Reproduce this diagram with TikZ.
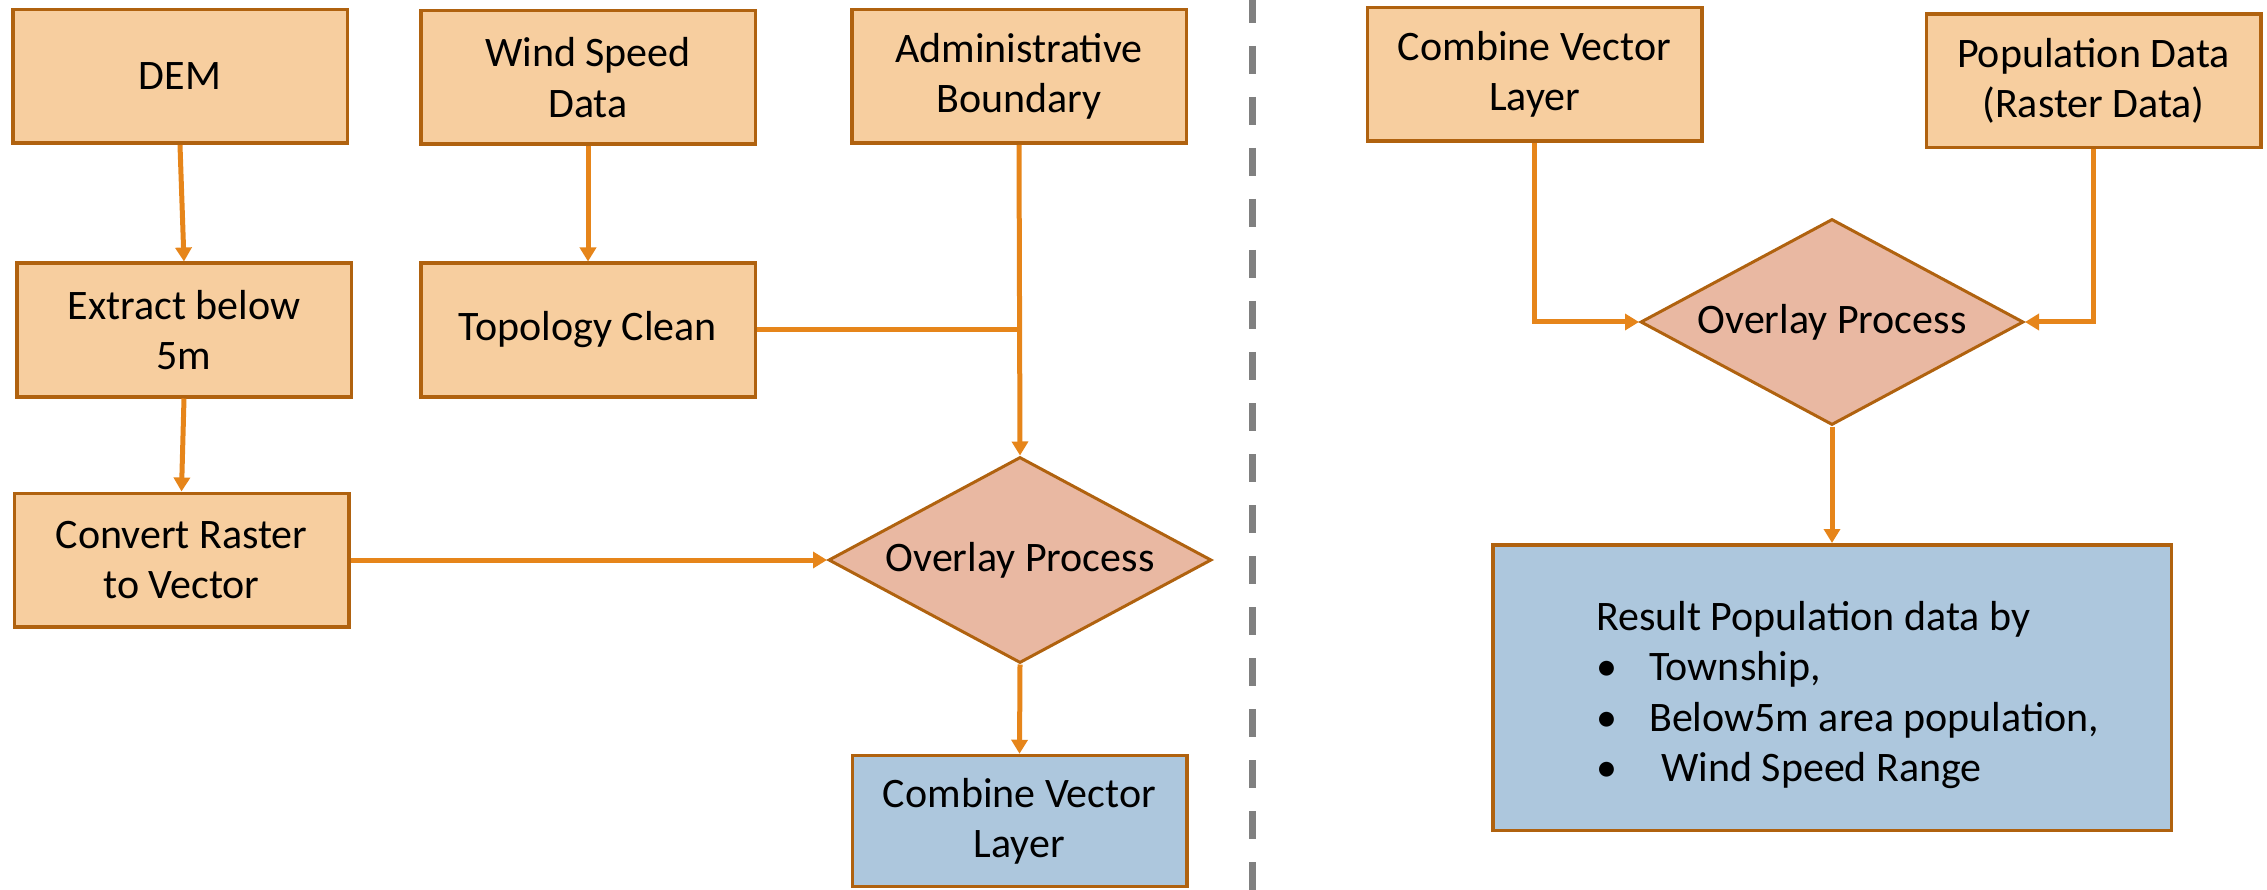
\documentclass[tikz,border=0pt]{standalone}
\usepackage{fontspec}
\setmainfont{Carlito}
\usetikzlibrary{arrows.meta,shapes.geometric}
\definecolor{peach}{HTML}{F7CE9F}
\definecolor{bordc}{HTML}{B0620F}
\definecolor{salmon}{HTML}{E9B8A2}
\definecolor{paleblue}{HTML}{ADC7DD}
\definecolor{arrowc}{HTML}{E6851A}
\definecolor{sepgray}{HTML}{808080}
\begin{document}
\begin{tikzpicture}[x=1pt,y=-1pt,
  every node/.style={font=\fontsize{42}{50.4}\selectfont},
  box/.style={draw=bordc, line width=3.5pt, fill=peach, minimum width=334.5pt,
    minimum height=133.5pt, align=center, inner sep=0pt},
  bluebox/.style={box, fill=paleblue},
  diam/.style={diamond, draw=bordc, line width=3pt, fill=salmon,
    minimum width=383pt, minimum height=206pt, inner sep=0pt},
  conn/.style={draw=arrowc, line width=5pt},
  arr/.style={conn, -{Triangle[width=16pt,length=14pt]}},
  sep/.style={draw=sepgray, line width=7pt, dash pattern=on 28pt off 23pt, dash phase=5pt}
]
\useasboundingbox (0,0) rectangle (2267,890);

% left part
\node[box] (dem) at (180,76.5) {DEM};
\node[box] (wind) at (588,77.5) {Wind Speed\\Data};
\node[box] (admin) at (1019,76.5) {Administrative\\Boundary};
\node[box] (extract) at (184,330) {Extract below\\5m};
\node[box] (topo) at (588,330) {Topology Clean};
\node[box] (convert) at (181.5,560) {Convert Raster\\to Vector};
\node[diam, label={[name=ov1text]center:Overlay Process}] (ov1) at (1020,560) {};
\node[bluebox, minimum height=131pt] (combL) at (1019.5,821) {Combine Vector\\Layer};

\draw[arr] (dem.south) -- (extract.north);
\draw[arr] (extract.south) -- (convert.north);
\draw[arr] (wind.south) -- (topo.north);
\coordinate (junc) at (1020,330);
\draw[conn] (topo.east) -- (junc);
\draw[arr] (admin.south) -- (ov1.north);
\draw[arr] (convert.east) -- (ov1.west);
\draw[arr] (ov1.south) -- (combL.north);

% separator
\coordinate (sepTop) at (1252,0);
\coordinate (sepBot) at (1252,890);
\draw[sep] (sepTop) -- (sepBot);

% right part
\node[box] (combR) at (1534.5,74.5) {Combine Vector\\Layer};
\node[box] (pop) at (2093.5,81) {Population Data\\(Raster Data)};
\node[diam, label={[name=ov2text]center:Overlay Process}] (ov2) at (1832,322) {};
\node[bluebox, minimum width=678.5pt, minimum height=285.5pt] (res) at (1832,687.5) {};
\node[anchor=north west, align=left, inner sep=0pt] (restext) at (1596,601)
  {Result Population data by\\
   \makebox[53pt][l]{•}Township,\\
   \makebox[53pt][l]{•}Below5m area population,\\
   \makebox[65pt][l]{•}Wind Speed Range};

\draw[arr] (combR.south) |- (ov2.west);
\draw[arr] (pop.south) |- (ov2.east);
\draw[arr] (ov2.south) -- (res.north);
\end{tikzpicture}
\end{document}
